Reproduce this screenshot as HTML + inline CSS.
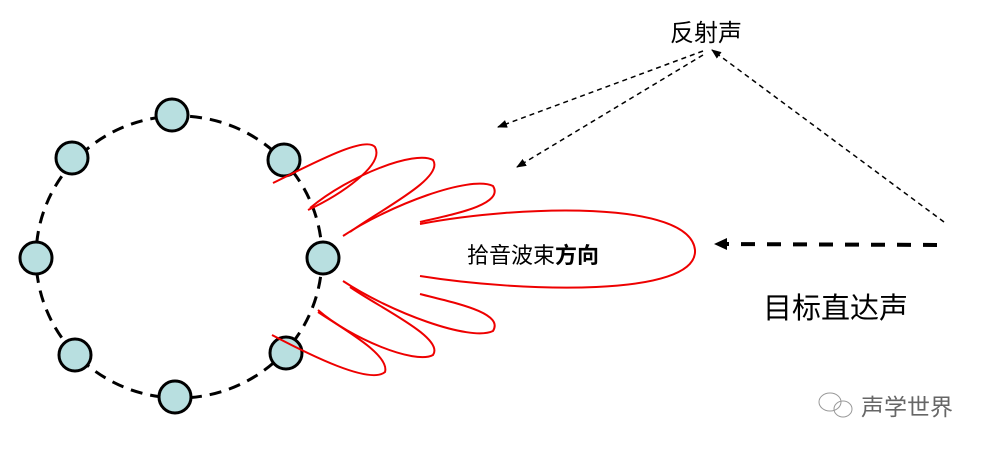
<!DOCTYPE html>
<html><head><meta charset="utf-8"><style>
body{margin:0;background:#fff;width:990px;height:452px;overflow:hidden}
svg{display:block}
text{font-family:"Liberation Sans","Noto Sans CJK SC",sans-serif}
</style></head><body>
<svg width="990" height="452" viewBox="0 0 990 452">
<defs><marker id="a" markerWidth="10" markerHeight="8" refX="9" refY="4" orient="auto" markerUnits="userSpaceOnUse"><path d="M0,0L10,4L0,8z" fill="#000"/></marker></defs>
<ellipse cx="179" cy="257" rx="143" ry="141" fill="none" stroke="#000" stroke-width="3" stroke-dasharray="12,8"/>
<g fill="#b8dfe0" stroke="#000" stroke-width="3">
<circle cx="172" cy="115" r="16"/><circle cx="72" cy="158" r="16"/><circle cx="284" cy="160" r="16"/>
<circle cx="36" cy="258" r="16"/><circle cx="323" cy="258" r="16"/>
<circle cx="75" cy="355" r="16"/><circle cx="286" cy="353" r="16"/><circle cx="175" cy="397" r="16"/>
</g>
<g fill="none" stroke="#e00" stroke-width="2">
<path d="M420,224 C520,205 690,200 695,250 C698,298 520,292 420,276"/>
<path d="M343,236 C390,205 470,175 493,186 C505,205 450,215 420,222"/>
<path d="M343,281 C390,312 470,342 493,331 C505,312 450,302 420,294"/>
<path d="M310,208 C350,175 415,150 433,160 C445,178 380,210 350,232"/>
<path d="M318,310 C350,338 415,365 433,355 C445,338 380,308 350,287"/>
<path d="M273,183 C310,165 365,135 375,147 C385,165 340,195 308,210"/>
<path d="M272,335 C310,355 370,385 385,372 C390,355 345,330 318,312"/>
</g>
<text x="467" y="263" font-size="22">拾音波束<tspan font-weight="bold">方向</tspan></text>
<text x="670" y="41" font-size="24">反射声</text>
<text x="763" y="318" font-size="29">目标直达声</text>
<g stroke="#000" stroke-width="1.5" stroke-dasharray="5,4" fill="none" marker-end="url(#a)">
<line x1="703" y1="51" x2="498" y2="127"/>
<line x1="703" y1="55" x2="517" y2="167"/>
<line x1="944" y1="222" x2="712" y2="50"/>
</g>
<line x1="937" y1="245" x2="725" y2="244" stroke="#000" stroke-width="4" stroke-dasharray="14,12"/>
<path d="M714,244 L727,238 L727,250z" fill="#000"/>
<g fill="none" stroke="#999" stroke-width="1"><ellipse cx="830" cy="402" rx="11" ry="9"/><ellipse cx="843" cy="409" rx="9" ry="8"/></g>
<text x="861" y="415" font-size="23" fill="#666">声学世界</text>
</svg>
</body></html>
